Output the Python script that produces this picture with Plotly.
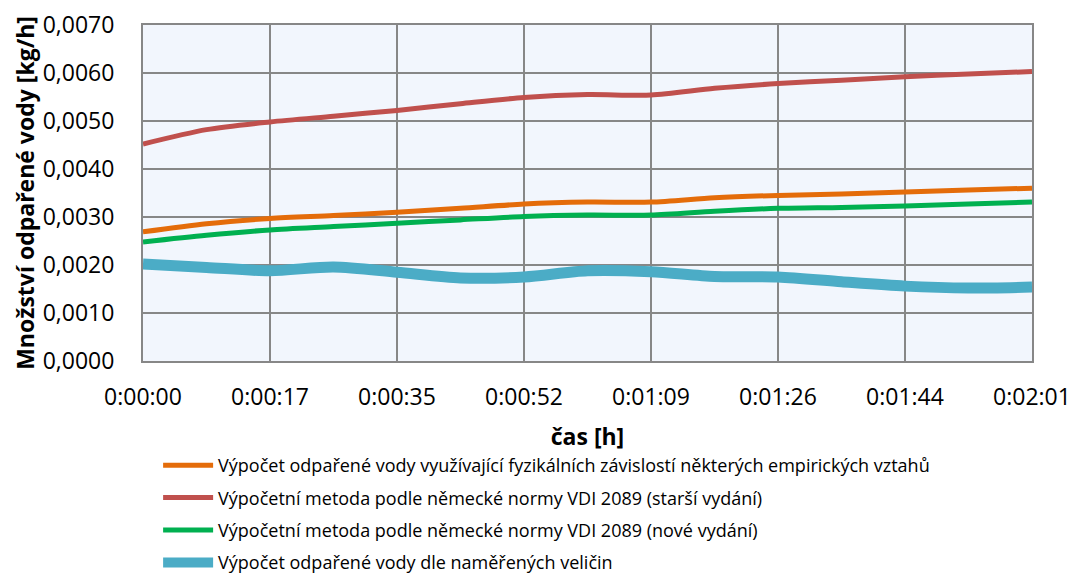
import plotly.graph_objects as go

# Sampling times [s] and tick labels
time_s = [0, 8.64, 17.29, 25.93, 34.57, 43.21, 51.86, 60.5, 69.14, 77.79, 86.43, 95.07, 103.71, 112.36, 121]
tick_pos = [0, 17.29, 34.57, 51.86, 69.14, 86.43, 103.71, 121]
tick_labels = ["0:00:00", "0:00:17", "0:00:35", "0:00:52", "0:01:09", "0:01:26", "0:01:44", "0:02:01"]

# Evaporated water [kg/h]
empiricke = [0.00269, 0.00286, 0.00297, 0.00303, 0.00310, 0.00318, 0.00327, 0.00331,
             0.00331, 0.00340, 0.00345, 0.00348, 0.00352, 0.00356, 0.00360]
vdi_stare = [0.00452, 0.00482, 0.00498, 0.00510, 0.00522, 0.00536, 0.00549, 0.00555,
             0.00554, 0.00568, 0.00578, 0.00585, 0.00592, 0.00598, 0.00603]
vdi_nove = [0.00248, 0.00262, 0.00273, 0.00280, 0.00287, 0.00294, 0.00301, 0.00304,
            0.00304, 0.00312, 0.00318, 0.00320, 0.00323, 0.00327, 0.00331]
namerene = [0.00202, 0.00195, 0.00188, 0.00196, 0.00185, 0.00173, 0.00175, 0.00188,
            0.00186, 0.00176, 0.00175, 0.00165, 0.00156, 0.00152, 0.00154]

series = [
    ("Výpočet odpařené vody využívající fyzikálních závislostí některých empirických vztahů", empiricke, "#E46C0A", 5),
    ("Výpočetní metoda podle německé normy VDI 2089 (starší vydání)", vdi_stare, "#C0504D", 5),
    ("Výpočetní metoda podle německé normy VDI 2089 (nové vydání)", vdi_nove, "#00B050", 5),
    ("Výpočet odpařené vody dle naměřených veličin", namerene, "#4BACC6", 11),
]

font_family = "Open Sans, Noto Sans, sans-serif"

fig = go.Figure()
for i, (name, vals, color, w) in enumerate(series):
    fig.add_trace(go.Scatter(
        x=time_s, y=vals, name=name, mode="lines", legendgroup=f"g{i}",
        line=dict(color=color, width=w, shape="spline", smoothing=0.8),
    ))

fig.update_layout(
    width=1077, height=576,
    margin=dict(l=143, r=45, t=25, b=215, autoexpand=False),
    paper_bgcolor="white",
    plot_bgcolor="#F2F6FD",
    separators=", ",
    font=dict(family=font_family, size=23, color="black"),
    showlegend=True,
    legend=dict(
        x=0.017, y=-0.256, xanchor="left", yanchor="top",
        orientation="v",
        font=dict(size=18, color="black"),
        tracegroupgap=6, itemwidth=50,
        bgcolor="rgba(0,0,0,0)",
    ),
)

fig.update_xaxes(
    range=[0, 121],
    tickvals=tick_pos, ticktext=tick_labels,
    showgrid=True, gridcolor="#878787", gridwidth=2,
    showline=True, linecolor="#878787", linewidth=2, mirror=True,
    ticks="", ticklabelstandoff=14,
    tickfont=dict(size=23),
    title=dict(text="<b>čas [h]</b>", font=dict(size=23), standoff=18),
    zeroline=False,
)
fig.update_yaxes(
    range=[0, 0.007], dtick=0.001, tick0=0,
    tickformat=".4f",
    showgrid=True, gridcolor="#878787", gridwidth=2,
    showline=True, linecolor="#878787", linewidth=2, mirror=True,
    ticks="", ticklabelstandoff=22,
    tickfont=dict(size=23),
    title=dict(text="<b>Množství odpařené vody [kg/h]</b>", font=dict(size=23), standoff=2),
    zeroline=False,
)

fig.write_html("out.html")
